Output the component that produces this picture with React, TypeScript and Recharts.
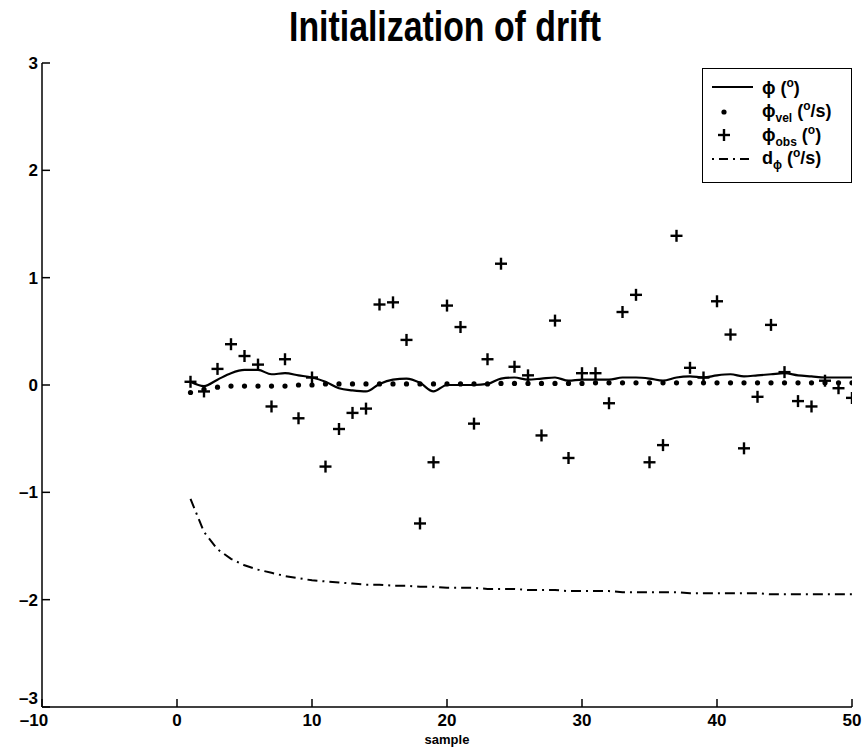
import { ComposedChart, Line, Scatter, XAxis, YAxis } from 'recharts';

const samples = [
  1, 2, 3, 4, 5, 6, 7, 8, 9, 10, 11, 12, 13, 14, 15, 16, 17, 18, 19, 20, 21, 22, 23, 24, 25,
  26, 27, 28, 29, 30, 31, 32, 33, 34, 35, 36, 37, 38, 39, 40, 41, 42, 43, 44, 45, 46, 47, 48, 49, 50,
];

// phi (deg), smoothed estimate
const phi = [
  0.03, -0.01, 0.05, 0.11, 0.14, 0.14, 0.1, 0.11, 0.09, 0.07, 0.03, -0.03, -0.05, -0.06, 0.01, 0.05, 0.06,
  0.02, -0.06, 0.0, 0.0, 0.0, 0.01, 0.06, 0.07, 0.05, 0.06, 0.07, 0.04, 0.05, 0.05, 0.05, 0.07, 0.07, 0.06,
  0.04, 0.07, 0.08, 0.07, 0.09, 0.1, 0.08, 0.09, 0.1, 0.11, 0.09, 0.08, 0.07, 0.07, 0.07,
];

// phi_vel (deg/s)
const phiVel = [
  -0.07, -0.04, -0.02, -0.01, -0.01, -0.01, -0.01, -0.01, 0.0, 0.0, 0.01, 0.01, 0.01, 0.01, 0.01, 0.01, 0.01,
  0.01, 0.01, 0.01, 0.01, 0.01, 0.01, 0.015, 0.015, 0.015, 0.015, 0.015, 0.015, 0.015, 0.02, 0.02, 0.02, 0.02,
  0.02, 0.02, 0.02, 0.02, 0.02, 0.02, 0.02, 0.02, 0.02, 0.02, 0.02, 0.02, 0.02, 0.02, 0.02, 0.02,
];

// phi_obs (deg), noisy measurements
const phiObs = [
  0.03, -0.06, 0.15, 0.38, 0.27, 0.19, -0.2, 0.24, -0.31, 0.07, -0.76, -0.41, -0.26, -0.22, 0.75, 0.77, 0.42,
  -1.29, -0.72, 0.74, 0.54, -0.36, 0.24, 1.13, 0.17, 0.09, -0.47, 0.6, -0.68, 0.11, 0.11, -0.17, 0.68, 0.84,
  -0.72, -0.56, 1.39, 0.16, 0.07, 0.78, 0.47, -0.59, -0.11, 0.56, 0.12, -0.15, -0.2, 0.04, -0.03, -0.12,
];

// d_phi (deg/s)
const dPhi = [
  -1.06, -1.37, -1.53, -1.62, -1.68, -1.72, -1.75, -1.78, -1.8, -1.82, -1.83, -1.84, -1.85, -1.86, -1.86,
  -1.87, -1.87, -1.88, -1.88, -1.89, -1.89, -1.89, -1.9, -1.9, -1.9, -1.91, -1.91, -1.91, -1.92, -1.92, -1.92,
  -1.92, -1.93, -1.93, -1.93, -1.93, -1.93, -1.94, -1.94, -1.94, -1.94, -1.94, -1.94, -1.95, -1.95, -1.95,
  -1.95, -1.95, -1.95, -1.95,
];

const xTicks = [-10, 0, 10, 20, 30, 40, 50];
const yTicks = [-3, -2, -1, 0, 1, 2, 3];

const data = samples.map((s, i) => ({
  x: s,
  phi: phi[i],
  vel: phiVel[i],
  obs: phiObs[i],
  d: dPhi[i],
}));

const FONT = '"Liberation Sans", Arial, Helvetica, sans-serif';
const TICK = 8;

// matlab style ticks: pointing into the plot
const BottomTick = (props: any) => {
  const { x, y, payload } = props;
  const label = payload.value < 0 ? '\u2013' + Math.abs(payload.value) : String(payload.value);
  return (
    <g>
      <line x1={x} y1={y} x2={x} y2={y - TICK} stroke="#000" strokeWidth={1.5} />
      <text x={payload.value === -10 ? x - 8 : x} y={y + 19} textAnchor="middle" fontFamily={FONT} fontWeight="bold" fontSize={17} fill="#000">
        {label}
      </text>
    </g>
  );
};

const TopTick = (props: any) => {
  const { x, y } = props;
  return <line x1={x} y1={y} x2={x} y2={y + TICK} stroke="#000" strokeWidth={1.5} />;
};

const LeftTick = (props: any) => {
  const { x, y, payload } = props;
  const label = payload.value < 0 ? '\u2013' + Math.abs(payload.value) : String(payload.value);
  return (
    <g>
      <line x1={x} y1={y} x2={x + TICK} y2={y} stroke="#000" strokeWidth={1.5} />
      <text x={x - 4} y={payload.value === -3 ? y - 3 : y + 6} textAnchor="end" fontFamily={FONT} fontWeight="bold" fontSize={17} fill="#000">
        {label}
      </text>
    </g>
  );
};

const RightTick = (props: any) => {
  const { x, y } = props;
  return <line x1={x} y1={y} x2={x - TICK} y2={y} stroke="#000" strokeWidth={1.5} />;
};

const Plus = (props: any) => {
  const { cx, cy } = props;
  if (cx == null || cy == null) return null;
  return (
    <g stroke="#000" strokeWidth={2.4}>
      <line x1={cx - 6} y1={cy} x2={cx + 6} y2={cy} />
      <line x1={cx} y1={cy - 6} x2={cx} y2={cy + 6} />
    </g>
  );
};

const Dot = (props: any) => {
  const { cx, cy } = props;
  if (cx == null || cy == null) return null;
  return <circle cx={cx} cy={cy} r={2.6} fill="#000" />;
};

const sup = { fontSize: 12, verticalAlign: 'super' as const };
const sub = { fontSize: 12, position: 'relative' as const, top: 5 };

function LegendBox() {
  const row = { display: 'flex', alignItems: 'center', height: 23.5 };
  const icon = { width: 53, height: 20, flex: 'none' as const };
  return (
    <div
      style={{
        position: 'absolute',
        left: 702,
        top: 68,
        width: 150,
        height: 115,
        border: '1.5px solid #000',
        background: '#fff',
        boxSizing: 'border-box',
        padding: '6px 0 0 6px',
        fontFamily: FONT,
        fontWeight: 'bold',
        fontSize: 18,
        color: '#000',
        lineHeight: 1,
      }}
    >
      <div style={row}>
        <svg style={icon}>
          <line x1={3} y1={10} x2={44} y2={10} stroke="#000" strokeWidth={2} />
        </svg>
        <span>
          ϕ (<span style={sup}>o</span>)
        </span>
      </div>
      <div style={row}>
        <svg style={icon}>
          <circle cx={15} cy={12} r={2.6} fill="#000" />
        </svg>
        <span>
          ϕ<span style={sub}>vel</span> (<span style={sup}>o</span>/s)
        </span>
      </div>
      <div style={row}>
        <svg style={icon}>
          <Plus cx={15} cy={11} />
        </svg>
        <span>
          ϕ<span style={sub}>obs</span> (<span style={sup}>o</span>)
        </span>
      </div>
      <div style={row}>
        <svg style={icon}>
          <line x1={3} y1={12} x2={44} y2={12} stroke="#000" strokeWidth={2} strokeDasharray="2 5 9 5" />
        </svg>
        <span>
          d<span style={sub}>ϕ</span> (<span style={sup}>o</span>/s)
        </span>
      </div>
    </div>
  );
}

export default function App() {
  return (
    <div style={{ position: 'absolute', left: 0, top: 0, width: 865, height: 747, background: '#fff' }}>
      <svg width={865} height={60} style={{ position: 'absolute', left: 0, top: 0 }}>
        <text
          x={289}
          y={41}
          fontFamily={FONT}
          fontWeight="bold"
          fontSize={42}
          textLength={312}
          lengthAdjust="spacingAndGlyphs"
          fill="#000"
        >
          Initialization of drift
        </text>
      </svg>
      <div style={{ position: 'absolute', left: 0, top: 0 }}>
        <ComposedChart width={865} height={747} data={data} margin={{ top: 63, right: 13, left: 0, bottom: 0 }}>
          <XAxis
            dataKey="x"
            type="number"
            domain={[-10, 50]}
            ticks={xTicks}
            interval={0}
            allowDataOverflow
            height={40}
            tickSize={0}
            tickMargin={0}
            tickLine={false}
            axisLine={{ stroke: '#000', strokeWidth: 1.5 }}
            tick={<BottomTick />}
            label={{ value: 'sample', position: 'insideBottom', offset: 3, fill: '#000', fontSize: 13, fontWeight: 'bold', fontFamily: FONT }}
          />
          <XAxis
            xAxisId="top"
            dataKey="x"
            type="number"
            orientation="top"
            domain={[-10, 50]}
            ticks={xTicks}
            interval={0}
            height={0}
            tickSize={0}
            tickMargin={0}
            tickLine={false}
            axisLine={{ stroke: '#000', strokeWidth: 1.5 }}
            tick={<TopTick />}
          />
          <YAxis
            type="number"
            domain={[-3, 3]}
            ticks={yTicks}
            interval={0}
            allowDataOverflow
            width={42}
            tickSize={0}
            tickMargin={0}
            tickLine={false}
            axisLine={{ stroke: '#000', strokeWidth: 1.5 }}
            tick={<LeftTick />}
          />
          <YAxis
            yAxisId="right"
            type="number"
            orientation="right"
            domain={[-3, 3]}
            ticks={yTicks}
            interval={0}
            width={0}
            tickSize={0}
            tickMargin={0}
            tickLine={false}
            axisLine={{ stroke: '#000', strokeWidth: 1.5 }}
            tick={<RightTick />}
          />
          <Line
            dataKey="d"
            type="linear"
            stroke="#000"
            strokeWidth={2}
            strokeDasharray="10 5 2 5"
            dot={false}
            activeDot={false}
            isAnimationActive={false}
          />
          <Line
            dataKey="phi"
            type="monotone"
            stroke="#000"
            strokeWidth={2.2}
            dot={false}
            activeDot={false}
            isAnimationActive={false}
          />
          <Scatter dataKey="vel" shape={<Dot />} isAnimationActive={false} />
          <Scatter dataKey="obs" shape={<Plus />} isAnimationActive={false} />
        </ComposedChart>
      </div>
      <LegendBox />
    </div>
  );
}
